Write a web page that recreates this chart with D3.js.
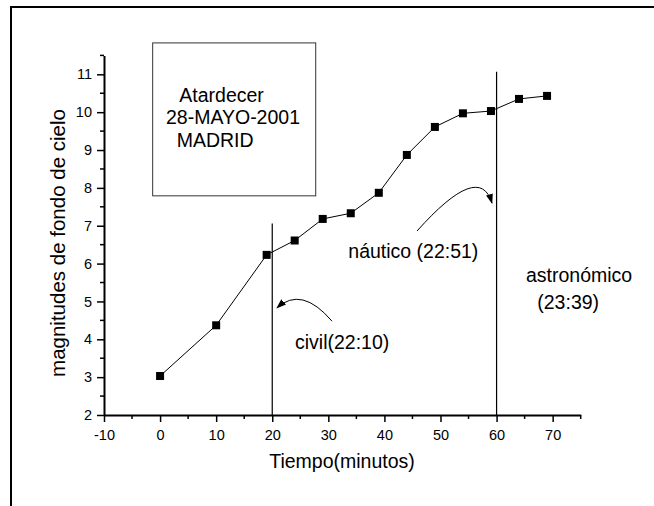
<!DOCTYPE html>
<html>
<head>
<meta charset="utf-8">
<script src="https://cdn.jsdelivr.net/npm/d3@7"></script>
<style>
  body { margin: 0; background: #fff; }
  text { font-family: Arial, "Liberation Sans", sans-serif; fill: #000; }
</style>
</head>
<body>
<script>
// minutes after sunset and sky background magnitudes
var minutos = [0, 10, 19, 24, 29, 34, 39, 44, 49, 54, 59, 64, 69];
var magnitudes = [3.03, 4.37, 6.23, 6.61, 7.18, 7.33, 7.87, 8.87, 9.61, 9.97, 10.03, 10.35, 10.43];

var xTicks = [-10, 0, 10, 20, 30, 40, 50, 60, 70];
var yTicks = [2, 3, 4, 5, 6, 7, 8, 9, 10, 11];

// twilight markers (minute, top of line)
var crepusculos = [
    { t: 20, top: 7.06 },
    { t: 60, top: 11.07 }
];

// labels placed in data units
var etiquetas = [
    { text: "civil(22:10)", x: 24.06, y: 3.74 },
    { text: "náutico (22:51)", x: 33.56, y: 6.14 },
    { text: "astronómico", x: 65.24, y: 5.52 },
    { text: "(23:39)", x: 67.26, y: 4.79 }
];
var cuadro = ["Atardecer", "28-MAYO-2001", "MADRID"];
var cuadroX = [3.43, 1.05, 2.96];
var cuadroY = [10.28, 9.68, 9.09];

// curved arrows: start, control, end
var flechas = [
    [[30.65, 4.48], [25.21, 5.42], [20.85, 4.83]],
    [[45.81, 6.86], [56.95, 8.71], [59.18, 7.60]]
];

window.onload = function(){
    var svg = d3.select("body").append("svg")
        .attr("width", 654)
        .attr("height", 506);

    //outer frame
    svg.append("path")
        .attr("d", "M11,506 V7 H654")
        .attr("fill", "none")
        .attr("stroke", "#000")
        .attr("stroke-width", 2);

    var x = d3.scaleLinear().domain([-10, 75]).range([104, 580.7]);
    var y = d3.scaleLinear().domain([2, 11.5]).range([415, 55.4]);

    //arrow head marker
    svg.append("defs").append("marker")
        .attr("id", "head")
        .attr("viewBox", "0 0 10 10")
        .attr("refX", 9).attr("refY", 5)
        .attr("markerWidth", 10).attr("markerHeight", 10)
        .attr("markerUnits", "userSpaceOnUse")
        .attr("orient", "auto")
        .append("path")
        .attr("d", "M0,1.5 L10,5 L0,8.5 z")
        .attr("fill", "#000");

    //minor ticks
    var xMinor = d3.range(-5, 80, 10);
    var yMinor = d3.range(2.5, 11.6, 1);
    svg.selectAll(".xminor").data(xMinor).enter().append("line")
        .attr("x1", function(d){ return x(d); })
        .attr("x2", function(d){ return x(d); })
        .attr("y1", y(2)).attr("y2", y(2) + 4)
        .attr("stroke", "#000").attr("stroke-width", 1.5);
    svg.selectAll(".yminor").data(yMinor).enter().append("line")
        .attr("y1", function(d){ return y(d); })
        .attr("y2", function(d){ return y(d); })
        .attr("x1", x(-10)).attr("x2", x(-10) - 4)
        .attr("stroke", "#000").attr("stroke-width", 1.5);

    var fmt = function(d){ return String(d); }; //plain hyphen for negatives
    var xAxis = svg.append("g")
        .attr("transform", "translate(0," + y(2) + ")")
        .call(d3.axisBottom(x).tickValues(xTicks).tickFormat(fmt).tickSize(7).tickPadding(8).tickSizeOuter(0));
    var yAxis = svg.append("g")
        .attr("transform", "translate(" + x(-10) + ",0)")
        .call(d3.axisLeft(y).tickValues(yTicks).tickFormat(fmt).tickSize(7).tickPadding(5).tickSizeOuter(0));

    [xAxis, yAxis].forEach(function(g){
        g.select(".domain").attr("stroke-width", 2);
        g.selectAll(".tick line").attr("stroke-width", 1.5);
        g.selectAll(".tick text")
            .style("font-family", "Arial, 'Liberation Sans', sans-serif")
            .style("font-size", "14.5px");
    });

    //axis titles
    svg.append("text")
        .attr("x", 342).attr("y", 468)
        .attr("text-anchor", "middle")
        .style("font-size", "19.5px")
        .text("Tiempo(minutos)");
    svg.append("text")
        .attr("transform", "translate(65,243) rotate(-90)")
        .attr("text-anchor", "middle")
        .style("font-size", "20.5px")
        .text("magnitudes de fondo de cielo");

    //box with title
    svg.append("rect")
        .attr("x", x(-1.32)).attr("y", y(11.83))
        .attr("width", x(27.75) - x(-1.32))
        .attr("height", y(7.79) - y(11.83))
        .attr("fill", "none")
        .attr("stroke", "#333");
    svg.selectAll(".cuadro").data(cuadro).enter().append("text")
        .attr("x", function(d, i){ return x(cuadroX[i]); })
        .attr("y", function(d, i){ return y(cuadroY[i]); })
        .style("font-size", "19.5px")
        .text(function(d){ return d; });

    //vertical twilight lines
    svg.selectAll(".crep").data(crepusculos).enter().append("line")
        .attr("x1", function(d){ return x(d.t); })
        .attr("x2", function(d){ return x(d.t); })
        .attr("y1", y(2))
        .attr("y2", function(d){ return y(d.top); })
        .attr("stroke", "#000")
        .attr("stroke-width", 1.2);

    //data line and squares
    var pts = minutos.map(function(m, i){ return [m, magnitudes[i]]; });
    svg.append("path")
        .datum(pts)
        .attr("d", d3.line().x(function(d){ return x(d[0]); }).y(function(d){ return y(d[1]); }))
        .attr("fill", "none")
        .attr("stroke", "#000")
        .attr("stroke-width", 1);
    svg.selectAll(".pt").data(pts).enter().append("rect")
        .attr("x", function(d){ return x(d[0]) - 4; })
        .attr("y", function(d){ return y(d[1]) - 4; })
        .attr("width", 8).attr("height", 8)
        .attr("fill", "#000");

    //curved arrows
    svg.selectAll(".flecha").data(flechas).enter().append("path")
        .attr("d", function(d){
            var p = d3.path();
            p.moveTo(x(d[0][0]), y(d[0][1]));
            p.quadraticCurveTo(x(d[1][0]), y(d[1][1]), x(d[2][0]), y(d[2][1]));
            return p.toString();
        })
        .attr("fill", "none")
        .attr("stroke", "#000")
        .attr("stroke-width", 1)
        .attr("marker-end", "url(#head)");

    svg.selectAll(".etiqueta").data(etiquetas).enter().append("text")
        .attr("x", function(d){ return x(d.x); })
        .attr("y", function(d){ return y(d.y); })
        .style("font-size", "19.5px")
        .text(function(d){ return d.text; });
};
</script>
</body>
</html>
